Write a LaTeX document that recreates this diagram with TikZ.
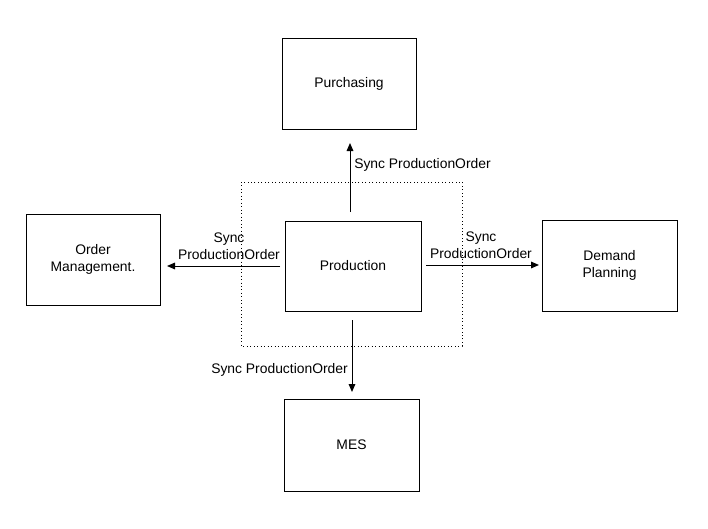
\documentclass[tikz,border=0pt]{standalone}
\usepackage{fontspec}
\setmainfont{Liberation Sans}
\usetikzlibrary{arrows.meta}

\begin{document}
\begin{tikzpicture}[x=0.75pt,y=-0.75pt,
	box/.style={draw, line width=0.75pt, inner sep=0pt, align=center,
		minimum width=#1*0.75pt, minimum height=91*0.75pt},
	box/.default=134,
	msg/.style={line width=0.75pt, -{Triangle[length=6pt,width=5pt]}},
	lbl/.style={align=center, inner sep=0pt},
	every node/.style={font=\fontsize{10.4}{12.75}\selectfont}]

% frame %{{{2

	\useasboundingbox (0,0) rectangle (708,529);

% boxes %{{{2

	\node[box] (purch) at (349,83.5) {Purchasing};
	\node[box=136, minimum height=90*0.75pt] (prod) at (353,266) {Production};
	\node[box] (order) at (93,259.5) {Order\\Management.};
	\node[box=135] (demand) at (609.5,265.5) {Demand\\Planning};
	\node[box=135, minimum height=92*0.75pt] (mes) at (351.5,445) {MES};

	\draw[dotted, line width=0.6pt] (241,182) rectangle (462,346);

% arrow ends %{{{2

	\coordinate (upA) at (350,212);
	\coordinate (upB) at (350,143);
	\coordinate (leftA) at (280,266);
	\coordinate (leftB) at (167,266);
	\coordinate (rightA) at (426,265);
	\coordinate (rightB) at (539,265);
	\coordinate (downA) at (352,320);
	\coordinate (downB) at (352,392);

% arrows %{{{2

	\draw[msg] (upA) -- (upB);
	\draw[msg] (leftA) -- (leftB);
	\draw[msg] (rightA) -- (rightB);
	\draw[msg] (downA) -- (downB);

% labels %{{{2

	\node[lbl, anchor=west] (upL) at (354,165) {Sync ProductionOrder};
	\node[lbl] (leftL) at (229,246.5) {Sync\\ProductionOrder};
	\node[lbl] (rightL) at (481,245.5) {Sync\\ProductionOrder};
	\node[lbl, anchor=east] (downL) at (348,370) {Sync ProductionOrder};

% closing %{{{2

\end{tikzpicture}
\end{document}
